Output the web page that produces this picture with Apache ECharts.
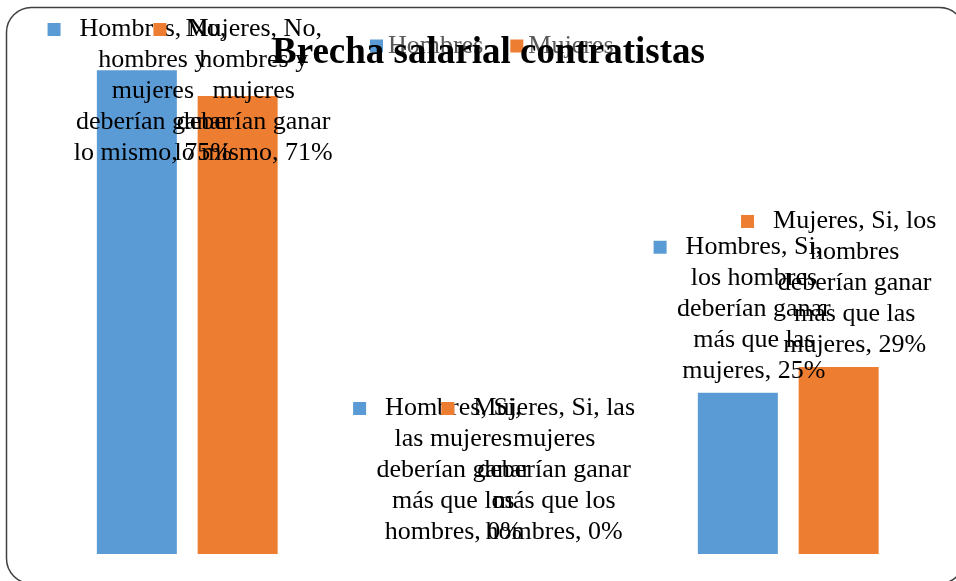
<!DOCTYPE html>
<html>
<head>
<meta charset="utf-8">
<script src="https://cdn.jsdelivr.net/npm/echarts@6/dist/echarts.min.js"></script>
<style>
  html, body { margin: 0; padding: 0; background: #fff; }
  #chart { width: 956px; height: 581px; }
</style>
</head>
<body>
<div id="chart"></div>
<script>
  var categories = [
    'No, hombres y mujeres deberían ganar lo mismo',
    'Si, las mujeres deberían ganar más que los hombres',
    'Si, los hombres deberían ganar más que las mujeres'
  ];
  var seriesNames = ['Hombres', 'Mujeres'];
  var hombres = [75, 0, 25];
  var mujeres = [71, 0, 29];
  var colors = ['#5B9BD5', '#ED7D31'];

  var FONT = '"Liberation Serif", "Times New Roman", serif';
  var ctx = document.createElement('canvas').getContext('2d');
  ctx.font = '26px ' + FONT;

  // greedy word wrap, like the Excel data labels
  function wrap(text, maxW) {
    var words = text.split(' '), lines = [], cur = '';
    words.forEach(function (w) {
      var t = cur ? cur + ' ' + w : w;
      if (cur && ctx.measureText(t).width > maxW) {
        lines.push(cur);
        cur = w;
      } else {
        cur = t;
      }
    });
    if (cur) lines.push(cur);
    return lines;
  }

  function labelText(p) {
    var lines = wrap(p.seriesName + ', ' + p.name + ', ' + p.value + '%', 167);
    return lines.map(function (l, i) {
      return (i === 0 ? '{k|}{g|}' : '{g2|}') + '{t|' + l + '}';
    }).join('\n');
  }

  function makeSeries(name, values, color) {
    return {
      name: name,
      type: 'bar',
      data: values,
      barWidth: 80,
      barGap: '26%',
      itemStyle: { color: color },
      label: {
        show: true,
        position: 'top',
        distance: 6,
        formatter: labelText,
        rich: {
          k: { width: 13, height: 13, backgroundColor: color, lineHeight: 31 },
          g: { width: 19, lineHeight: 31 },
          g2: { width: 32, lineHeight: 31 },
          t: { fontFamily: FONT, fontSize: 26, lineHeight: 31, color: '#000' }
        }
      },
      // labels that would leave the chart stay pinned under the top edge
      labelLayout: function (p) {
        if (p.labelRect.y < 14) {
          return { y: 14, align: 'center', verticalAlign: 'top' };
        }
      }
    };
  }

  var chart = echarts.init(document.getElementById('chart'));
  chart.setOption({
    animation: false,
    title: {
      text: 'Brecha salarial contratistas',
      left: 267,
      top: 30,
      textStyle: { fontFamily: FONT, fontSize: 37, fontWeight: 'bold', color: '#000' }
    },
    legend: {
      data: seriesNames,
      left: 365,
      top: 28,
      icon: 'rect',
      itemWidth: 13,
      itemHeight: 13,
      itemGap: 27,
      textStyle: { fontFamily: FONT, fontSize: 26, color: '#595959' }
    },
    grid: { left: 37, right: 17.5, top: 38, bottom: 27 },
    xAxis: {
      type: 'category',
      data: categories,
      axisLine: { show: false },
      axisTick: { show: false },
      axisLabel: { show: false }
    },
    yAxis: {
      type: 'value',
      min: 0,
      max: 80,
      show: false,
      splitLine: { show: false }
    },
    series: [
      makeSeries(seriesNames[0], hombres, colors[0]),
      makeSeries(seriesNames[1], mujeres, colors[1])
    ],
    graphic: [{
      type: 'rect',
      shape: { x: 6.5, y: 7.5, width: 958, height: 576, r: 25 },
      style: { fill: 'none', stroke: '#404040', lineWidth: 1.5 },
      silent: true
    }]
  });
</script>
</body>
</html>
